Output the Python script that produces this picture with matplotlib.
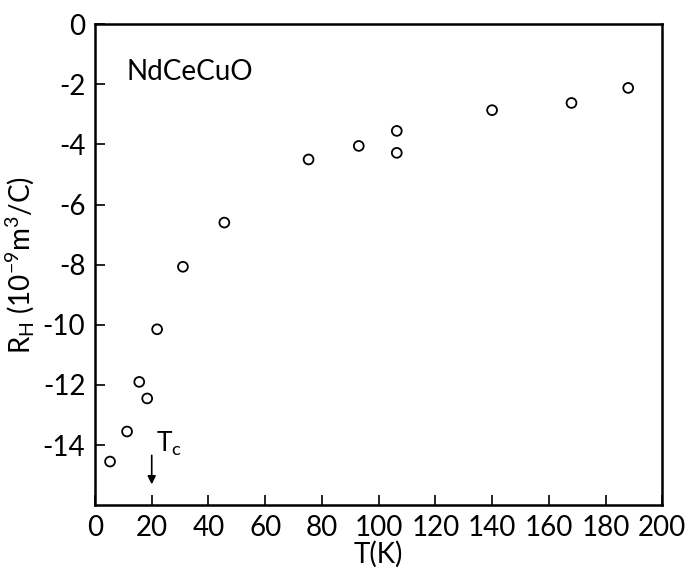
import matplotlib
matplotlib.use("Agg")
import matplotlib.pyplot as plt

# data
T = [5.3, 11.3, 15.6, 18.4, 21.9, 31.0, 45.6, 75.3, 93.0, 106.4, 106.4, 140.0, 168.0, 188.0]
RH = [-14.55, -13.55, -11.9, -12.45, -10.15, -8.07, -6.6, -4.5, -4.05, -3.55, -4.28, -2.86, -2.62, -2.12]
xticks = [0, 20, 40, 60, 80, 100, 120, 140, 160, 180, 200]
yticks = [0, -2, -4, -6, -8, -10, -12, -14]

plt.rcParams['font.family'] = ['Lato', 'DejaVu Sans']
plt.rcParams['mathtext.default'] = 'regular'

fig = plt.figure(figsize=(6.96, 5.76), dpi=100)
ax = fig.add_axes([0.1365, 0.123, 0.815, 0.835])

ax.scatter(T, RH, s=50, facecolors='none', edgecolors='black', linewidths=1.3)

ax.set_xlim(0, 200)
ax.set_ylim(-16, 0)
ax.set_xticks(xticks)
ax.set_yticks(yticks)
ax.set_xticklabels([str(v) for v in xticks])
ax.set_yticklabels([str(v) for v in yticks])
ax.tick_params(direction='in', length=7, width=1.2, labelsize=20, pad=7)
for s in ax.spines.values():
    s.set_linewidth(1.8)

ax.set_xlabel('T(K)', fontsize=20, labelpad=0)
ax.set_ylabel(r'R$_H$ (10$^{-9}$m$^3$/C)', fontsize=20, labelpad=4)

ax.text(11, -1.6, 'NdCeCuO', fontsize=20, ha='left', va='center')
ax.text(21.5, -13.95, r'T$_c$', fontsize=19, ha='left', va='center')
ax.annotate('', xy=(20, -15.4), xytext=(20, -14.25),
            arrowprops=dict(arrowstyle='-|>', color='black', lw=1.2,
                            mutation_scale=12))

fig.savefig('out.png', dpi=100)
